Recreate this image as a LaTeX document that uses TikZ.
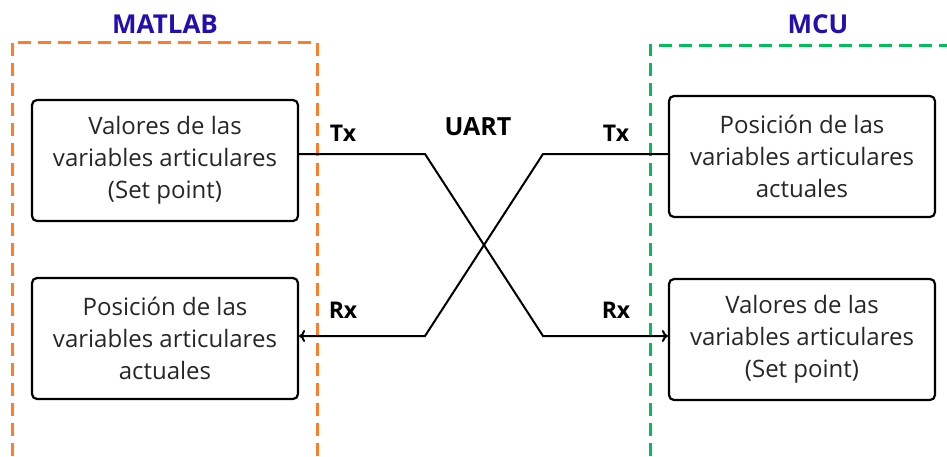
\documentclass[tikz,border=0pt]{standalone}
\usepackage{fontspec}
\setmainfont{Open Sans}
\usetikzlibrary{arrows.meta}
\definecolor{matlaborange}{RGB}{255,125,40}
\definecolor{mcugreen}{RGB}{0,190,90}
\definecolor{titleblue}{RGB}{35,15,175}
\tikzset{
  block/.style={draw, line width=1.1pt, rounded corners=2.5pt, minimum width=133pt,
    minimum height=60.5pt, align=center, text=black!85, font=\fontsize{12}{16}\selectfont},
  pinlabel/.style={font=\bfseries\fontsize{11.5}{13}\selectfont},
  title/.style={font=\bfseries\fontsize{13}{15}\selectfont, text=titleblue},
  zone/.style={line width=1.5pt, dash pattern=on 6.5pt off 3.5pt},
  wire/.style={line width=1pt, -{To[length=3pt,width=6pt]}},
}
\begin{document}
\begin{tikzpicture}[x=0.5pt,y=-0.5pt]
  \useasboundingbox (0,0) rectangle (947,456);

  % zones
  \draw[zone,matlaborange] (12,456) -- (12,42) -- (317,42) -- (317,456);
  \draw[zone,mcugreen] (650,456) -- (650,45) -- (947,45);
  \node[title] (matlab) at (165,24) {MATLAB};
  \node[title] (mcu) at (818,24) {MCU};

  % blocks
  \node[block] (setl) at (165,160.5) {Valores de las\\variables articulares\\(Set point)};
  \node[block] (posl) at (165,338.5) {Posición de las\\variables articulares\\actuales};
  \node[block] (posr) at (802,156.5) {Posición de las\\variables articulares\\actuales};
  \node[block] (setr) at (802,339.5) {Valores de las\\variables articulares\\(Set point)};

  % crossing wires
  \coordinate (txl) at (425,154);
  \coordinate (rxr) at (543,336);
  \coordinate (txr) at (543,154);
  \coordinate (rxl) at (425,336);
  \draw[wire] (setl.east |- txl) -- (txl) -- (rxr) -- (setr.west |- rxr);
  \draw[wire] (posr.west |- txr) -- (txr) -- (rxl) -- (posl.east |- rxl);

  \node[pinlabel] (tx1) at (343,133) {Tx};
  \node[pinlabel] (tx2) at (616,133) {Tx};
  \node[pinlabel] (rx1) at (343,310) {Rx};
  \node[pinlabel] (rx2) at (616,310) {Rx};
  \node[pinlabel,font=\bfseries\fontsize{12.5}{14}\selectfont] (uart) at (478,127) {UART};
\end{tikzpicture}
\end{document}
